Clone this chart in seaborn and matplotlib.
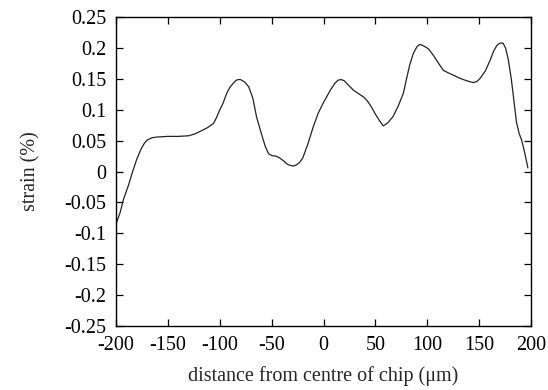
import matplotlib
matplotlib.use("Agg")
import matplotlib.pyplot as plt
import seaborn as sns
import pandas as pd

# Strain profile across the chip
distance_um = [-200, -196, -193, -188, -184, -180, -176, -173, -170, -165,
               -160, -150, -140, -130, -124, -119, -112, -106, -103, -100,
               -97, -93, -90, -87, -84, -82, -80, -76, -72, -68,
               -64.6, -60, -56, -53, -50, -46, -43, -39, -35, -32,
               -29, -26, -23, -20, -15, -10, -5, 0, 3, 7,
               11, 14, 17, 20, 24, 28.7, 33, 38.4, 42, 46.4,
               50, 54.5, 57.6, 62, 67, 72, 77, 80, 83, 86.5,
               90, 93, 97, 101, 106, 111, 115.4, 120, 124, 131.6,
               138, 144.4, 148, 151, 156, 160.5, 164, 167, 170, 173,
               175.5, 178, 181, 183.5, 186, 188.5, 191, 194, 197]
strain_pct = [-0.085, -0.066, -0.046, -0.022, 0.0, 0.02, 0.036, 0.045, 0.051, 0.055,
              0.056, 0.057, 0.057, 0.058, 0.061, 0.065, 0.071, 0.078, 0.088, 0.1,
              0.11, 0.128, 0.137, 0.143, 0.148, 0.149, 0.149, 0.145, 0.137, 0.118,
              0.089, 0.062, 0.04, 0.029, 0.026, 0.025, 0.023, 0.018, 0.012, 0.01,
              0.009, 0.011, 0.015, 0.022, 0.045, 0.072, 0.095, 0.112, 0.121, 0.133,
              0.143, 0.148, 0.149, 0.147, 0.14, 0.132, 0.127, 0.121, 0.115, 0.104,
              0.093, 0.081, 0.074, 0.079, 0.089, 0.106, 0.127, 0.15, 0.172, 0.191,
              0.202, 0.206, 0.203, 0.199, 0.188, 0.175, 0.164, 0.16, 0.157, 0.151,
              0.147, 0.144, 0.146, 0.151, 0.163, 0.18, 0.195, 0.204, 0.208, 0.208,
              0.2, 0.182, 0.15, 0.115, 0.08, 0.062, 0.051, 0.03, 0.006]

x_ticks = [-200, -150, -100, -50, 0, 50, 100, 150, 200]
y_ticks = [-0.25, -0.2, -0.15, -0.1, -0.05, 0, 0.05, 0.1, 0.15, 0.2, 0.25]
y_tick_labels = ["-0.25", "-0.2", "-0.15", "-0.1", "-0.05", "0",
                 "0.05", "0.1", "0.15", "0.2", "0.25"]

sns.set_theme(style="ticks")
plt.rcParams["font.family"] = ["Liberation Serif", "DejaVu Serif"]

df = pd.DataFrame({"distance": distance_um, "strain": strain_pct})

fig = plt.figure(figsize=(5.48, 3.90), dpi=100)
ax = fig.add_axes([0.2117, 0.164, 0.7573, 0.792])

sns.lineplot(data=df, x="distance", y="strain", ax=ax, color="#222222",
             linewidth=0.9, sort=False)

ax.set_xlim(-200, 200)
ax.set_ylim(-0.25, 0.25)
ax.set_xticks(x_ticks)
ax.set_xticklabels([str(t) for t in x_ticks])
ax.set_yticks(y_ticks)
ax.set_yticklabels(y_tick_labels)

ax.tick_params(direction="in", top=True, right=True, length=5, width=0.9,
               labelsize=14.5, colors="black", pad=7)
for s in ax.spines.values():
    s.set_linewidth(1.0)
    s.set_color("black")

ax.set_xlabel("distance from centre of chip (μm)", fontsize=14.5, labelpad=8)
ax.set_ylabel("strain (%)", fontsize=14.5, labelpad=17)

fig.savefig("out.png", dpi=100)
